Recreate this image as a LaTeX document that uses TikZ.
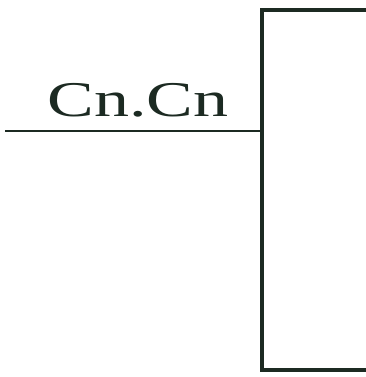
\documentclass[tikz,border=0pt]{standalone}
\usepackage{fontspec}
\setmainfont{Liberation Serif}
\usepackage{tikz}
\usetikzlibrary{positioning,calc}
\definecolor{cA}{HTML}{1c2a22}
\tikzset{
  boxline/.style={draw=cA,line width=3.6pt,line join=miter},
  lead/.style={draw=cA,line width=2.4pt},
  tag/.style={inner sep=0pt,anchor=base,text=cA,font=\fontsize{50}{50}\selectfont},
}

\begin{document}
\begin{tikzpicture}[x=1pt,y=-1pt]
  \useasboundingbox (0,0) rectangle (365,377);
  % open box on the right
  \coordinate (bt) at (262,10);
  \coordinate (bb) at (262,370);
  \coordinate (junc) at (262,131);
  \draw[boxline] (375,10) -- (bt) -- (bb) -- (375,370);
  % incoming line and its label
  \coordinate (start) at (5,131);
  \draw[lead] (start) -- (junc);
  \node[tag] (lbl) at (138,117) {\scalebox{1.4}[1]{Cn.Cn}};
\end{tikzpicture}
\end{document}
